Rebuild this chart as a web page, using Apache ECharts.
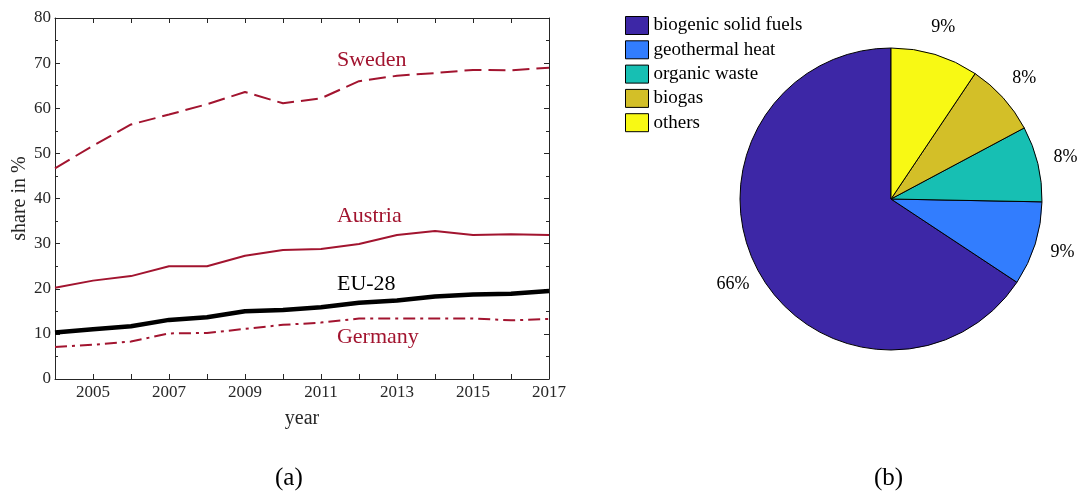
<!DOCTYPE html>
<html>
<head>
<meta charset="utf-8">
<script src="https://cdn.jsdelivr.net/npm/echarts@6/dist/echarts.min.js"></script>
<style>
  html, body { margin: 0; padding: 0; background: #fff; }
  #chart { width: 1077px; height: 498px; }
</style>
</head>
<body>
<div id="chart"></div>
<script>
// Share of renewable energy in heating and cooling, 2004-2017
const years = [2004, 2005, 2006, 2007, 2008, 2009, 2010, 2011, 2012, 2013, 2014, 2015, 2016, 2017];
const sweden  = [46.7, 51.7, 56.4, 58.6, 60.9, 63.6, 61.1, 62.2, 66.0, 67.2, 67.8, 68.5, 68.4, 69.0];
const austria = [20.2, 21.8, 22.8, 25.0, 25.0, 27.3, 28.6, 28.8, 29.9, 31.9, 32.8, 31.9, 32.1, 31.9];
const eu28    = [10.3, 11.0, 11.7, 13.1, 13.7, 15.0, 15.3, 15.9, 16.9, 17.4, 18.3, 18.7, 18.9, 19.5];
const germany = [7.1, 7.6, 8.3, 10.1, 10.2, 11.1, 12.0, 12.5, 13.4, 13.4, 13.4, 13.4, 13.0, 13.3];

// Series name labels placed in data coordinates
const seriesLabels = [
  { name: 'Sweden',  coord: [2011.42, 70.7], color: '#A2142F' },
  { name: 'Austria', coord: [2011.42, 36.0], color: '#A2142F' },
  { name: 'EU-28',   coord: [2011.42, 21.0], color: '#000000' },
  { name: 'Germany', coord: [2011.42, 9.2],  color: '#A2142F' }
];

// Renewable heat sources (pie)
const sourceNames  = ['biogenic solid fuels', 'geothermal heat', 'organic waste', 'biogas', 'others'];
const sourceShares = [65.7, 9.0, 8.1, 7.8, 9.4];
const sourceColors = ['#3D27A6', '#327DFE', '#17BFB3', '#D3BF28', '#F8F914'];

const FONT = '"Liberation Serif", "DejaVu Serif", serif';
const AXIS = '#262626';
const RED = '#A2142F';

const pairs = vals => years.map((y, i) => [y, vals[i]]);

const chart = echarts.init(document.getElementById('chart'), null, { renderer: 'canvas' });

const baseX = {
  type: 'value', min: 2004, max: 2017, interval: 1,
  axisLine: { show: true, onZero: false, lineStyle: { color: AXIS, width: 1 } },
  axisTick: { show: true, inside: true, length: 5, lineStyle: { color: AXIS } },
  splitLine: { show: false }
};
const baseY = {
  type: 'value', min: 0, max: 80, interval: 10,
  axisLine: { show: true, onZero: false, lineStyle: { color: AXIS, width: 1 } },
  axisTick: { show: true, inside: true, length: 5, lineStyle: { color: AXIS } },
  minorTick: { show: true, splitNumber: 2, length: 3, lineStyle: { color: AXIS } },
  splitLine: { show: false }
};

const pieCenter = [891, 199];

const option = {
  animation: false,
  textStyle: { fontFamily: FONT },
  grid: { left: 55, top: 18, width: 494, height: 361, containLabel: false },
  xAxis: [
    Object.assign({}, baseX, {
      position: 'bottom',
      name: 'year', nameLocation: 'middle', nameGap: 30,
      nameTextStyle: { fontFamily: FONT, fontSize: 20, color: '#262626' },
      axisLabel: {
        fontFamily: FONT, fontSize: 17, color: '#262626', margin: 5,
        formatter: v => (v % 2 === 1 ? String(v) : '')
      }
    }),
    Object.assign({}, baseX, { position: 'top', axisLabel: { show: false } })
  ],
  yAxis: [
    Object.assign({}, baseY, {
      position: 'left',
      name: 'share in %', nameLocation: 'middle', nameGap: 24,
      nameTextStyle: { fontFamily: FONT, fontSize: 20, color: '#262626' },
      axisLabel: { fontFamily: FONT, fontSize: 17, color: '#262626', margin: 4 }
    }),
    Object.assign({}, baseY, { position: 'right', axisLabel: { show: false } })
  ],
  legend: {
    orient: 'vertical', left: 620, top: 11,
    itemWidth: 23, itemHeight: 18, itemGap: 5.3,
    icon: 'rect', selectedMode: false,
    data: sourceNames,
    itemStyle: { borderColor: '#000', borderWidth: 1 },
    textStyle: { fontFamily: FONT, fontSize: 19, color: '#000' }
  },
  graphic: [
    { type: 'text', left: 275, top: 466, style: { text: '(a)', font: '25px ' + FONT, fill: '#000' } },
    { type: 'text', left: 874, top: 466, style: { text: '(b)', font: '25px ' + FONT, fill: '#000' } }
  ],
  series: [
    {
      name: 'Sweden', type: 'line', data: pairs(sweden), symbol: 'none',
      lineStyle: { color: RED, width: 2, type: [17, 7] }
    },
    {
      name: 'Austria', type: 'line', data: pairs(austria), symbol: 'none',
      lineStyle: { color: RED, width: 2, type: 'solid' }
    },
    {
      name: 'EU-28', type: 'line', data: pairs(eu28), symbol: 'none',
      lineStyle: { color: '#000', width: 4.5, type: 'solid' }
    },
    {
      name: 'Germany', type: 'line', data: pairs(germany), symbol: 'none',
      lineStyle: { color: RED, width: 2, type: [12, 5, 3, 5] },
      markPoint: {
        symbol: 'circle', symbolSize: 0, silent: true,
        data: seriesLabels.map(l => ({
          name: l.name, coord: l.coord,
          label: {
            show: true, position: 'right', distance: 0, formatter: l.name,
            fontFamily: FONT, fontSize: 22, color: l.color, align: 'left', verticalAlign: 'middle'
          }
        }))
      }
    },
    {
      // filled wedges
      name: 'sources', type: 'pie',
      center: pieCenter, radius: 151,
      startAngle: 90, clockwise: false,
      data: sourceNames.map((n, i) => ({ name: n, value: sourceShares[i], itemStyle: { color: sourceColors[i] } })),
      itemStyle: { borderColor: '#000', borderWidth: 1 },
      label: { show: false },
      labelLine: { show: false },
      emphasis: { disabled: true }
    },
    {
      // transparent ring carrying the percentage labels just outside the wedges
      name: 'sourceLabels', type: 'pie',
      center: pieCenter, radius: [151, 202],
      startAngle: 90, clockwise: false,
      percentPrecision: 0, silent: true,
      avoidLabelOverlap: false,
      data: sourceNames.map((n, i) => ({ name: n, value: sourceShares[i] })),
      itemStyle: { color: 'rgba(0,0,0,0)', borderWidth: 0 },
      label: {
        show: true, position: 'inside', formatter: '{d}%', rotate: 0,
        fontFamily: FONT, fontSize: 18, color: '#000'
      },
      labelLine: { show: false },
      emphasis: { disabled: true }
    }
  ]
};

chart.setOption(option);
</script>
</body>
</html>
